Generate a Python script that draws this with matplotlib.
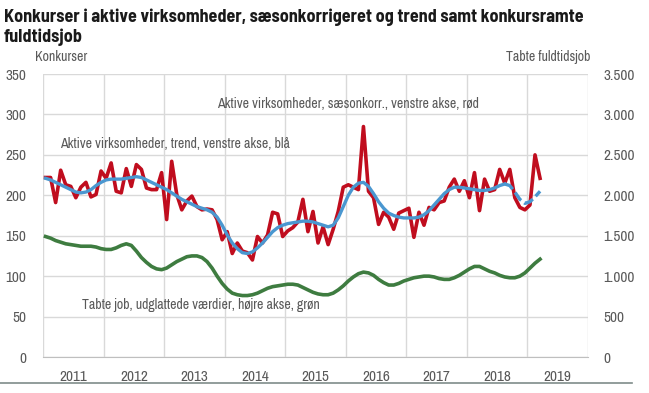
import matplotlib
matplotlib.use("Agg")
import numpy as np
import matplotlib.pyplot as plt
from matplotlib import font_manager
from matplotlib.lines import Line2D

# --------------------------------------------------------------------------
# Data: monthly, Jan 2011 - Mar 2019
# --------------------------------------------------------------------------
START_YEAR = 2011

# Konkurser i aktive virksomheder, saesonkorrigeret (left axis, red)
SAESON = [222, 222, 191, 231, 213, 211, 197, 210, 216, 198, 201, 230,
          221, 240, 205, 203, 233, 211, 238, 232, 209, 207, 207, 228,
          170, 242, 201, 182, 193, 199, 186, 182, 183, 182, 170, 145,
          155, 128, 141, 131, 129, 120, 149, 141, 151, 179, 177, 149,
          156, 160, 167, 195, 155, 180, 141, 161, 139, 158, 180, 210,
          213, 210, 207, 285, 205, 197, 164, 179, 173, 158, 178, 181,
          184, 148, 179, 163, 185, 182, 191, 193, 210, 220, 205, 218,
          197, 228, 181, 220, 205, 207, 232, 215, 232, 197, 185, 182,
          188, 250, 221]

# Konkurser i aktive virksomheder, trend (left axis, blue)
TREND = [221, 219, 216, 213, 210, 207, 204, 203, 204, 207, 212, 216,
         219, 220, 220, 220, 221, 222, 223, 222, 219, 216, 213, 210,
         207, 203, 199, 195, 192, 189, 186, 184, 182, 179, 173, 163,
         151, 141, 134, 129, 128, 130, 135, 141, 148, 155, 160, 163,
         165, 166, 167, 168, 168, 167, 165, 163, 161, 163, 172, 186,
         200, 210, 215, 216, 211, 202, 192, 184, 178, 175, 173, 172,
         172, 172, 173, 176, 181, 188, 195, 202, 207, 210, 210, 209,
         208, 207, 206, 206, 207, 209, 212, 214, 212, 204, 195, 190,
         192, 198, 205]
TREND_PROVISIONAL_FROM = 91   # last part of the trend is drawn dashed

# Tabte fuldtidsjob, udglattede vaerdier (right axis, green)
TABTE_JOB = [1490, 1470, 1440, 1420, 1400, 1390, 1380, 1370, 1370, 1370, 1360, 1340,
             1330, 1330, 1350, 1380, 1400, 1380, 1310, 1230, 1170, 1120, 1090, 1080,
             1100, 1140, 1180, 1210, 1240, 1250, 1250, 1230, 1180, 1100, 1000, 910,
             840, 790, 770, 760, 760, 770, 790, 820, 850, 870, 880, 890,
             900, 900, 890, 860, 830, 800, 780, 770, 770, 790, 830, 880,
             940, 990, 1030, 1050, 1040, 1010, 960, 920, 890, 890, 910, 940,
             960, 980, 990, 1000, 1000, 990, 970, 960, 960, 980, 1010, 1050,
             1090, 1120, 1120, 1090, 1060, 1040, 1010, 990, 980, 980, 1000, 1040,
             1100, 1160, 1210]

YEARS = list(range(2011, 2020))
LEFT_TICKS = [0, 50, 100, 150, 200, 250, 300, 350]
RIGHT_TICKS = [0, 500, 1000, 1500, 2000, 2500, 3000, 3500]

RED = "#c00d1e"
BLUE = "#4a97d0"
GREEN = "#3e7c40"
TXT = "#595959"


def pick_font(candidates, bold=False):
    fonts = font_manager.fontManager.ttflist
    for c in candidates:
        for f in fonts:
            if f.name != c:
                continue
            w = f.weight if isinstance(f.weight, int) else 400
            if not bold or w >= 600 or f.weight in ("bold", "semibold"):
                return c
    return "Liberation Sans"


NARROW = pick_font(["Liberation Sans Narrow", "Arial Narrow", "Archivo Narrow",
                    "Barlow Semi Condensed", "Liberation Sans"])
NARROW_BOLD = pick_font(["Liberation Sans Narrow", "Arial Narrow", "Archivo Narrow",
                         "Barlow Semi Condensed", "Asap Condensed",
                         "Barlow Condensed"], bold=True)
plt.rcParams["font.family"] = [NARROW, "DejaVu Sans"]


def fmt_dk(v):
    return f"{int(v):,}".replace(",", ".")


def main():
    n = len(SAESON)
    x = START_YEAR + (np.arange(n) + 0.5) / 12.0

    fig = plt.figure(figsize=(6.49, 3.93), dpi=100)
    ax = fig.add_axes([0.0663, 0.0916, 0.8397, 0.7201])
    ax2 = ax.twinx()

    # left axis series
    ax.plot(x, SAESON, color=RED, linewidth=2.6, zorder=3)
    k = TREND_PROVISIONAL_FROM
    ax.plot(x[:k + 1], TREND[:k + 1], color=BLUE, linewidth=2.4, zorder=4)
    ax.plot(x[k:], TREND[k:], color=BLUE, linewidth=2.4, zorder=4,
            linestyle=(0, (3, 1.2)))

    # right axis series
    ax2.plot(x, TABTE_JOB, color=GREEN, linewidth=2.6, zorder=3)

    ax.set_xlim(2011, 2020)
    ax.set_ylim(0, 350)
    ax2.set_ylim(0, 3500)

    ax.set_xticks(YEARS + [2020])
    ax.set_xticklabels([])
    ax.set_xticks([y + 0.5 for y in YEARS], minor=True)
    ax.set_xticklabels([str(y) for y in YEARS], minor=True)
    ax.tick_params(axis="x", which="both", length=0, pad=9,
                   labelsize=11, labelcolor=TXT)

    ax.set_yticks(LEFT_TICKS)
    ax.set_yticklabels([str(v) for v in LEFT_TICKS])
    ax.tick_params(axis="y", length=0, pad=12, labelsize=11, labelcolor=TXT)
    ax2.set_yticks(RIGHT_TICKS)
    ax2.set_yticklabels([fmt_dk(v) for v in RIGHT_TICKS])
    ax2.tick_params(axis="y", length=0, pad=11, labelsize=11, labelcolor=TXT)

    ax.grid(True, which="major", color="#d9d9d9", linewidth=1.0)
    ax.set_axisbelow(True)
    for a in (ax, ax2):
        for s in a.spines.values():
            s.set_visible(False)
    ax.spines["bottom"].set_visible(True)
    ax.spines["bottom"].set_color("#bfbfbf")

    # series labels
    ax.text(2013.88, 313, "Aktive virksomheder, sæsonkorr., venstre akse, rød",
            fontsize=10, color=TXT, ha="left", va="center")
    ax.text(2011.28, 263, "Aktive virksomheder, trend, venstre akse, blå",
            fontsize=10, color=TXT, ha="left", va="center")
    ax.text(2011.64, 64, "Tabte job, udglattede værdier, højre akse, grøn",
            fontsize=10, color=TXT, ha="left", va="center")

    # axis titles
    fig.text(35 / 649, 1 - 57 / 393, "Konkurser", fontsize=10, color=TXT,
             ha="left", va="center")
    fig.text(590 / 649, 1 - 57 / 393, "Tabte fuldtidsjob", fontsize=10, color=TXT,
             ha="right", va="center")

    fig.text(4 / 649, 1 - 8 / 393,
             "Konkurser i aktive virksomheder, sæsonkorrigeret og trend samt konkursramte\n"
             "fuldtidsjob",
             fontsize=13, fontweight="bold", color="#1a1a1a",
             family=[NARROW_BOLD, "DejaVu Sans"],
             ha="left", va="top", linespacing=1.2)

    # rule under the chart
    fig.add_artist(Line2D([0, 632 / 649], [1 - 383 / 393] * 2,
                          color="#7f8c8a", linewidth=1.2))

    fig.savefig("out.png", dpi=100)


if __name__ == "__main__":
    main()
